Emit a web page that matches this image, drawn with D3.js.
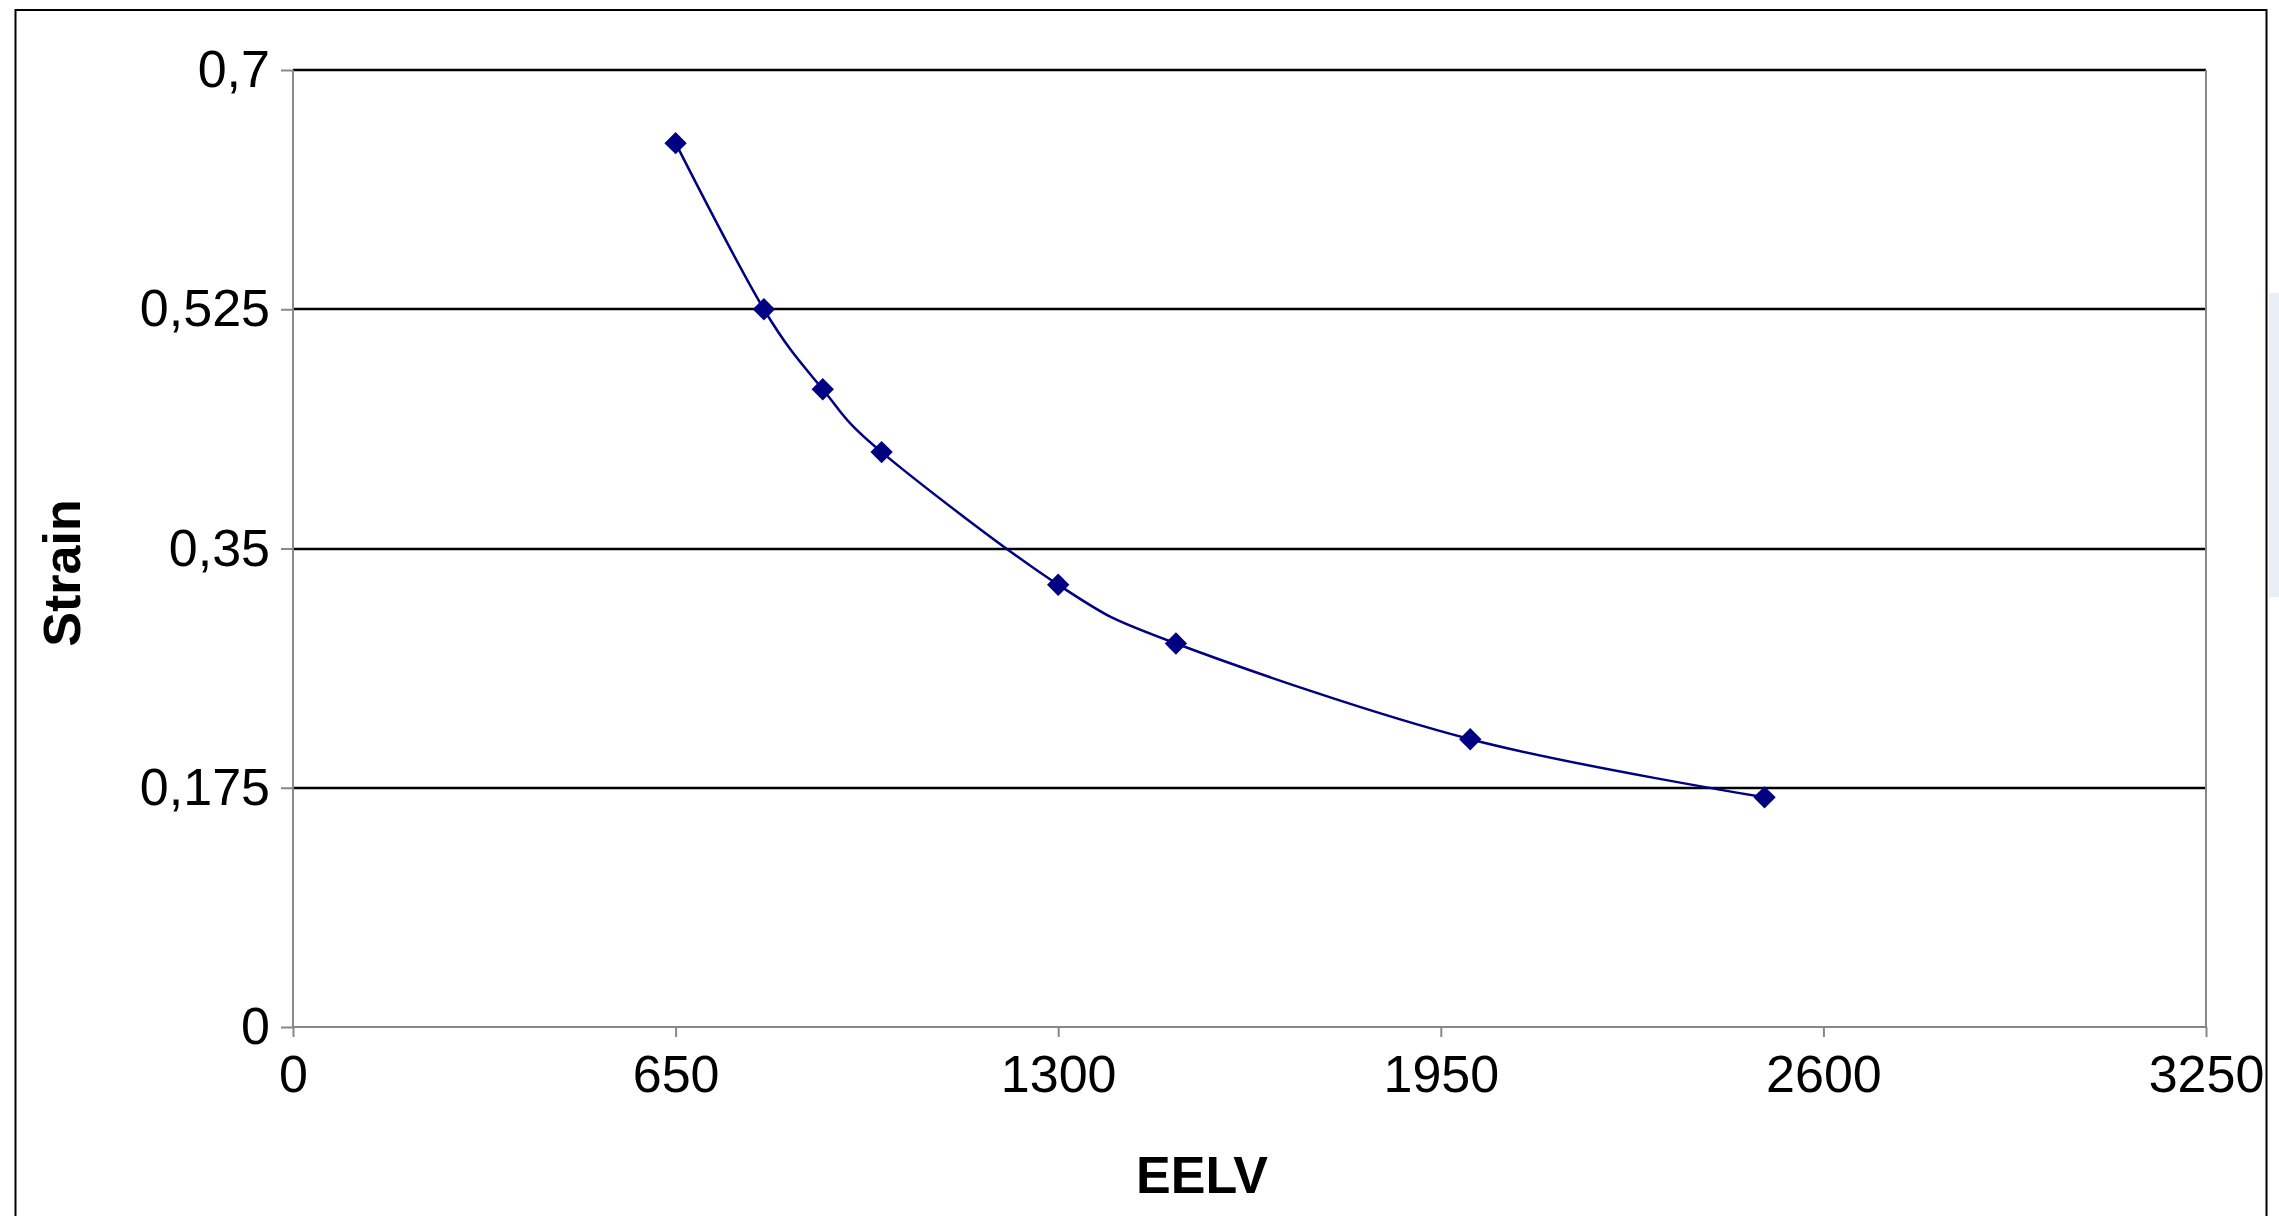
<!DOCTYPE html>
<html>
<head>
<meta charset="utf-8">
<script src="https://cdn.jsdelivr.net/npm/d3@7"></script>
<style>
  html, body { margin: 0; padding: 0; background: #fff; }
  svg { display: block; }
  text { font-family: "Liberation Sans", Arial, sans-serif; fill: #000; }
</style>
</head>
<body>
<svg id="chart" width="2279" height="1216"></svg>
<script>
// Strain measured against EELV
const eelv   = [650, 800, 900, 1000, 1300, 1500, 2000, 2500];
const strain = [0.6465, 0.525, 0.4665, 0.4205, 0.3235, 0.2805, 0.2105, 0.168];

const xTickValues = [0, 650, 1300, 1950, 2600, 3250];
const yTickValues = [0, 0.175, 0.35, 0.525, 0.7];

const xTitle = "EELV";
const yTitle = "Strain";

const W = 2279, H = 1216;
const plot = { left: 293, right: 2206, top: 70, bottom: 1027 };

const svg = d3.select("#chart");

// outer frame of the chart object
svg.append("rect")
  .attr("x", 15.5).attr("y", 10)
  .attr("width", 2266.5 - 15.5).attr("height", H + 20)
  .attr("fill", "none").attr("stroke", "#000").attr("stroke-width", 2);

// faint strip beyond the frame at the right edge
svg.append("rect")
  .attr("x", 2269).attr("y", 293).attr("width", 10).attr("height", 304)
  .attr("fill", "#eaeef6");

const x = d3.scaleLinear().domain([0, 3250]).range([plot.left, plot.right]);
const y = d3.scaleLinear().domain([0, 0.7]).range([plot.bottom, plot.top]);

const fmt = d => String(d).replace(".", ",");

// horizontal gridlines
svg.append("g")
  .selectAll("line")
  .data(yTickValues.filter(d => d > 0))
  .join("line")
  .attr("x1", plot.left).attr("x2", plot.right)
  .attr("y1", d => Math.round(y(d))).attr("y2", d => Math.round(y(d)))
  .attr("stroke", "#000").attr("stroke-width", 2.4);

// frame lines of the plot area (left, bottom, right)
const frame = svg.append("g").attr("stroke", "#888").attr("stroke-width", 2);
frame.append("line").attr("x1", plot.left).attr("x2", plot.left).attr("y1", plot.top).attr("y2", plot.bottom);
frame.append("line").attr("x1", plot.right).attr("x2", plot.right).attr("y1", plot.top).attr("y2", plot.bottom);
frame.append("line").attr("x1", plot.left).attr("x2", plot.right).attr("y1", plot.bottom).attr("y2", plot.bottom);

// y axis
const yAxis = svg.append("g")
  .attr("transform", `translate(${plot.left},0)`)
  .call(d3.axisLeft(y).tickValues(yTickValues).tickSize(12).tickPadding(11).tickFormat(fmt));
yAxis.select(".domain").remove();
yAxis.selectAll(".tick line").attr("stroke", "#888").attr("stroke-width", 2);
yAxis.selectAll(".tick text")
  .attr("font-family", "'Liberation Sans', Arial, sans-serif")
  .attr("font-size", 52).attr("fill", "#000");

// x axis
const xAxis = svg.append("g")
  .attr("transform", `translate(0,${plot.bottom})`)
  .call(d3.axisBottom(x).tickValues(xTickValues).tickSize(10).tickPadding(18).tickFormat(d3.format("d")));
xAxis.select(".domain").remove();
xAxis.selectAll(".tick line").attr("stroke", "#888").attr("stroke-width", 2);
xAxis.selectAll(".tick text")
  .attr("font-family", "'Liberation Sans', Arial, sans-serif")
  .attr("font-size", 52).attr("fill", "#000");

// axis titles
svg.append("text")
  .attr("x", 1202).attr("y", 1193)
  .attr("text-anchor", "middle")
  .attr("font-size", 52).attr("font-weight", "bold")
  .text(xTitle);

svg.append("text")
  .attr("transform", "translate(80,573) rotate(-90)")
  .attr("text-anchor", "middle")
  .attr("font-size", 52).attr("font-weight", "bold")
  .text(yTitle);

// smoothed series line
const pts = eelv.map((v, i) => [v, strain[i]]);
const line = d3.line()
  .x(d => x(d[0])).y(d => y(d[1]))
  .curve(d3.curveCardinal.tension(0));

svg.append("path")
  .datum(pts)
  .attr("d", line)
  .attr("fill", "none")
  .attr("stroke", "#000080")
  .attr("stroke-width", 2.5);

// diamond markers
svg.append("g")
  .selectAll("path")
  .data(pts)
  .join("path")
  .attr("d", d3.symbol(d3.symbolSquare, 250))
  .attr("transform", d => `translate(${x(d[0])},${y(d[1])}) rotate(45)`)
  .attr("fill", "#000080");
</script>
</body>
</html>
